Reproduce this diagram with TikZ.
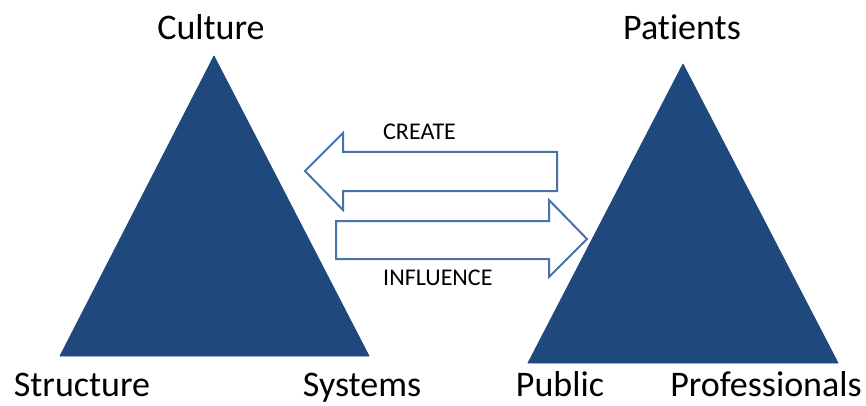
\documentclass[tikz,border=0pt]{standalone}
\usepackage{fontspec}
\setmainfont[Ligatures={NoCommon}]{Carlito}
\definecolor{tri}{HTML}{1F497D}
\definecolor{arrline}{HTML}{4A72A8}
\begin{document}
\begin{tikzpicture}[x=1pt,y=-1pt,
  tri/.style={fill=tri,draw=tri,line width=0.8pt,line join=round},
  arr/.style={draw=arrline,line width=2pt,fill=white,line join=miter},
  big/.style={font=\fontsize{36}{40}\selectfont,anchor=base,inner sep=0pt},
  small/.style={font=\fontsize{24}{28}\selectfont,anchor=base west,inner sep=0pt}]
\useasboundingbox (0,0) rectangle (866,406);
% left triangle
\coordinate (LA) at (214,56);
\coordinate (LL) at (60,356);
\coordinate (LR) at (369,356);
\fill[tri] (LA) -- (LL) -- (LR) -- cycle;
% right triangle
\coordinate (RA) at (683,64);
\coordinate (RL) at (528,363);
\coordinate (RR) at (838,363);
\fill[tri] (RA) -- (RL) -- (RR) -- cycle;
% create arrow (left)
\draw[arr] (305,171) -- (343,133) -- (343,152) -- (557,152) -- (557,191) -- (343,191) -- (343,210) -- cycle;
% influence arrow (right)
\draw[arr] (336,221) -- (549,221) -- (549,200) -- (587,239) -- (549,277) -- (549,259) -- (336,259) -- cycle;
% labels
\node[big] (culture) at (211,40) {Culture};
\node[big] (patients) at (682,40) {Patients};
\node[big] (structure) at (82,396) {Structure};
\node[big] (systems) at (362,396) {Systems};
\node[big] (public) at (560,396) {Public};
\node[big] (prof) at (766,396) {Professionals};
\node[small] (create) at (383,140) {CREATE};
\node[small] (influence) at (383,285) {INFLUENCE};
\end{tikzpicture}
\end{document}
